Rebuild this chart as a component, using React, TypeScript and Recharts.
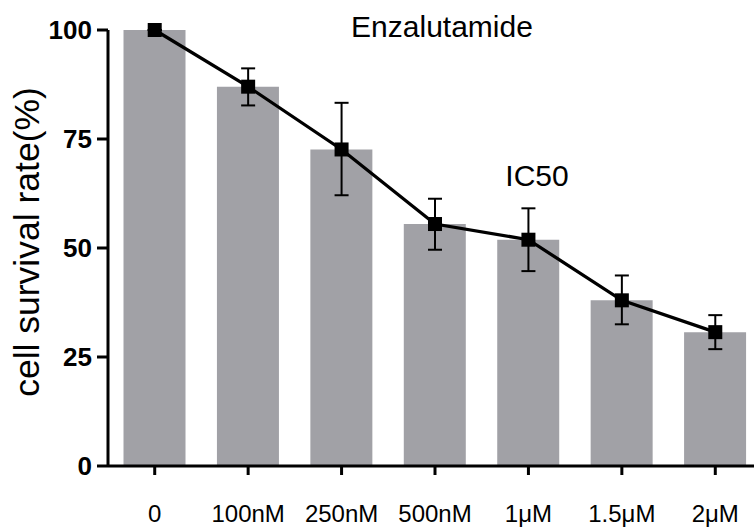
import React from "react";
import { Bar, ComposedChart, ErrorBar, Line, XAxis, YAxis } from "recharts";

const doses = ["0", "100nM", "250nM", "500nM", "1μM", "1.5μM", "2μM"];
const survival = [100, 87.0, 72.6, 55.5, 51.9, 38.0, 30.7];
const upperBound = [100, 91.2, 83.3, 61.3, 59.1, 43.7, 34.6];
const lowerBound = [100, 82.7, 62.1, 49.6, 44.7, 32.5, 26.8];
const yTicks = [0, 25, 50, 75, 100];

const FONT = "'Liberation Sans', Arial, Helvetica, sans-serif";

const data = doses.map((dose, i) => ({
  dose,
  survival: survival[i],
  err: [survival[i] - lowerBound[i], upperBound[i] - survival[i]],
}));

function SquareDot(props: any) {
  const { cx, cy } = props;
  if (cx == null || cy == null) return null;
  return <rect x={cx - 7} y={cy - 7} width={14} height={14} fill="#000" />;
}

export default function App() {
  return (
    <div
      style={{
        position: "absolute",
        left: 0,
        top: 0,
        width: 754,
        height: 527,
        overflow: "hidden",
        background: "#fff",
        fontFamily: FONT,
      }}
    >
      <ComposedChart
        width={770}
        height={527}
        data={data}
        margin={{ top: 30, right: 8, bottom: 0, left: 0 }}
        barCategoryGap="16.6%"
      >
        <XAxis
          dataKey="dose"
          height={61}
          axisLine={{ stroke: "#000", strokeWidth: 3 }}
          tickLine={{ stroke: "#000", strokeWidth: 3 }}
          tickSize={9}
          tickMargin={30}
          tick={{ fontSize: 24, fill: "#000", fontFamily: FONT }}
          interval={0}
        />
        <YAxis
          width={108}
          domain={[0, 100]}
          ticks={yTicks}
          axisLine={{ stroke: "#000", strokeWidth: 3 }}
          tickLine={{ stroke: "#000", strokeWidth: 3 }}
          tickSize={11}
          tickMargin={5}
          tick={{ fontSize: 26, fontWeight: "bold", fill: "#000", fontFamily: FONT }}
        />
        <Bar dataKey="survival" fill="#a1a1a6" isAnimationActive={false} />
        <Line
          type="linear"
          dataKey="survival"
          stroke="#000"
          strokeWidth={3.3}
          dot={<SquareDot />}
          activeDot={false}
          isAnimationActive={false}
        >
          <ErrorBar dataKey="err" width={7} stroke="#000" strokeWidth={2} />
        </Line>
      </ComposedChart>
      <div
        style={{
          position: "absolute",
          left: 27 - 200,
          top: 242 - 20,
          width: 400,
          height: 40,
          lineHeight: "40px",
          fontSize: 35.5,
          textAlign: "center",
          transform: "rotate(-90deg)",
          whiteSpace: "nowrap",
        }}
      >
        cell survival rate(%)
      </div>
      <div
        style={{
          position: "absolute",
          left: 442 - 150,
          top: 11.6,
          width: 300,
          lineHeight: "30px",
          fontSize: 30,
          textAlign: "center",
        }}
      >
        Enzalutamide
      </div>
      <div
        style={{
          position: "absolute",
          left: 537 - 60,
          top: 161.3,
          width: 120,
          lineHeight: "30px",
          fontSize: 30,
          textAlign: "center",
        }}
      >
        IC50
      </div>
    </div>
  );
}
